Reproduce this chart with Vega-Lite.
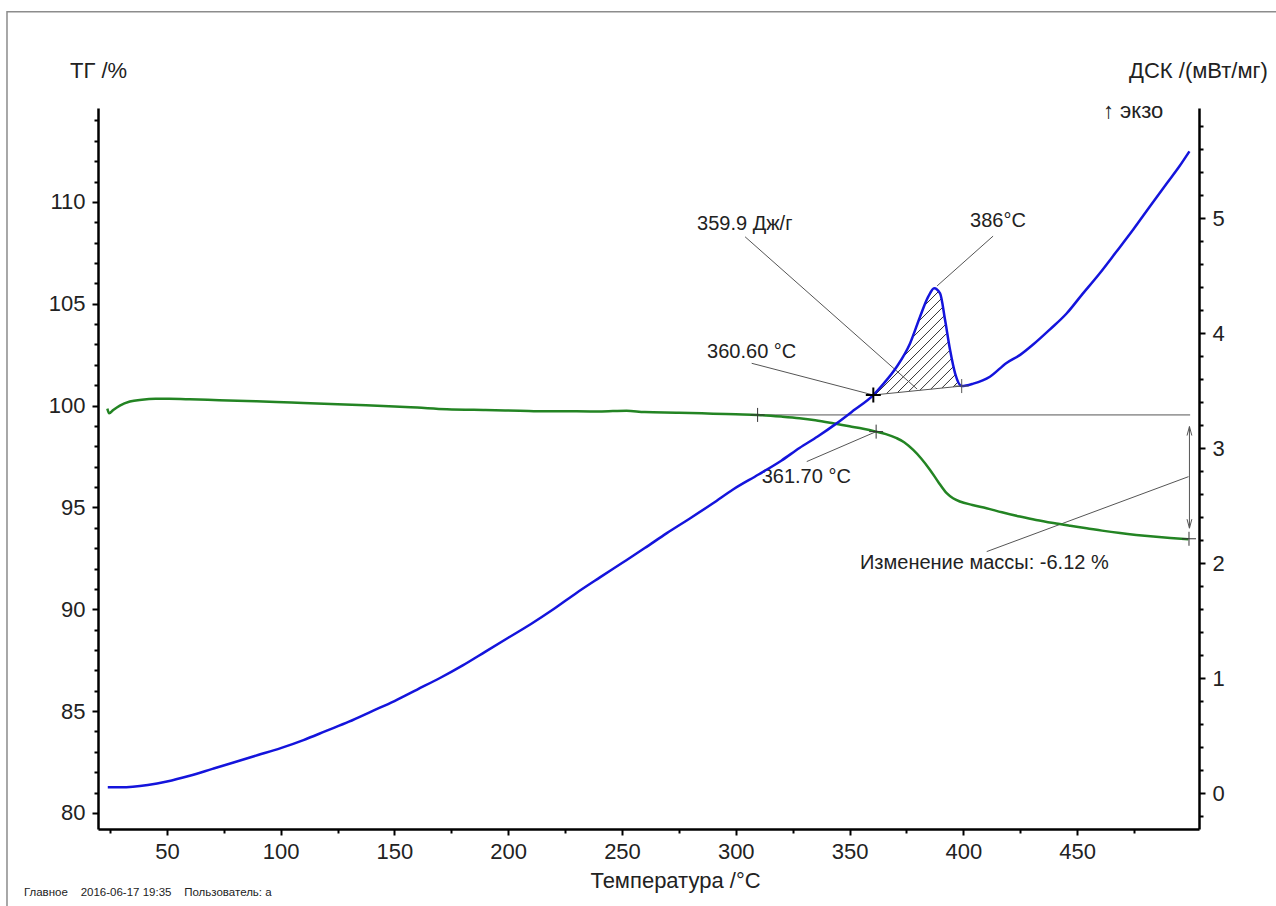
{
  "$schema": "https://vega.github.io/schema/vega-lite/v6.json",
  "width": 1101,
  "height": 721,
  "autosize": {"type": "none"},
  "padding": {"left": 98, "top": 108, "right": 77, "bottom": 77},
  "background": "white",
  "config": {
    "view": {"stroke": null},
    "axis": {
      "domainColor": "#000", "domainWidth": 2.5, "tickColor": "#000", "tickWidth": 2,
      "labelFont": "Liberation Sans", "labelFontSize": 22, "labelColor": "#222",
      "titleFont": "Liberation Sans", "titleFontSize": 22, "titleFontWeight": "normal", "titleColor": "#222",
      "grid": false, "labelFlush": false, "labelOverlap": false
    },
    "text": {"font": "Liberation Sans", "fontSize": 20, "color": "#222"}
  },
  "datasets": {
    "tg": [
      {"x": 23.8, "y": 99.85}, {"x": 24.6, "y": 99.62}, {"x": 26.4, "y": 99.78}, {"x": 29.3, "y": 100.0},
      {"x": 33.7, "y": 100.2}, {"x": 39, "y": 100.29}, {"x": 45, "y": 100.33}, {"x": 51, "y": 100.33},
      {"x": 60, "y": 100.31}, {"x": 73, "y": 100.26}, {"x": 85, "y": 100.22}, {"x": 98, "y": 100.18},
      {"x": 110, "y": 100.12}, {"x": 125, "y": 100.06}, {"x": 137.5, "y": 100.02}, {"x": 150, "y": 99.96},
      {"x": 160, "y": 99.9}, {"x": 173, "y": 99.82}, {"x": 190, "y": 99.78}, {"x": 205, "y": 99.75},
      {"x": 216, "y": 99.72}, {"x": 230, "y": 99.72}, {"x": 240, "y": 99.71}, {"x": 252, "y": 99.75},
      {"x": 260, "y": 99.68}, {"x": 275, "y": 99.65}, {"x": 290, "y": 99.6}, {"x": 300, "y": 99.57},
      {"x": 309.6, "y": 99.54}, {"x": 320, "y": 99.46}, {"x": 328, "y": 99.38}, {"x": 335, "y": 99.28},
      {"x": 342.8, "y": 99.13}, {"x": 350, "y": 98.98}, {"x": 356, "y": 98.86}, {"x": 361.7, "y": 98.72},
      {"x": 366, "y": 98.6}, {"x": 370.7, "y": 98.4}, {"x": 374, "y": 98.2}, {"x": 378, "y": 97.82},
      {"x": 381.5, "y": 97.4}, {"x": 385.4, "y": 96.84}, {"x": 389, "y": 96.25}, {"x": 392.7, "y": 95.7},
      {"x": 395.5, "y": 95.45}, {"x": 398.5, "y": 95.29}, {"x": 404, "y": 95.12}, {"x": 410.2, "y": 94.96},
      {"x": 417, "y": 94.76}, {"x": 424.9, "y": 94.55}, {"x": 432, "y": 94.38}, {"x": 439.6, "y": 94.23},
      {"x": 447, "y": 94.1}, {"x": 454.2, "y": 93.98}, {"x": 461, "y": 93.86}, {"x": 468.9, "y": 93.74},
      {"x": 476, "y": 93.65}, {"x": 483.5, "y": 93.57}, {"x": 491, "y": 93.5}, {"x": 498.9, "y": 93.44}
    ],
    "dsc": [
      {"x": 24, "y": 0.05}, {"x": 30, "y": 0.05}, {"x": 35, "y": 0.055}, {"x": 41.6, "y": 0.07},
      {"x": 50, "y": 0.1}, {"x": 60, "y": 0.15}, {"x": 70, "y": 0.21}, {"x": 80, "y": 0.27},
      {"x": 90, "y": 0.33}, {"x": 100, "y": 0.39}, {"x": 110, "y": 0.46}, {"x": 120, "y": 0.54},
      {"x": 130, "y": 0.62}, {"x": 140, "y": 0.71}, {"x": 150, "y": 0.8}, {"x": 160, "y": 0.9},
      {"x": 170, "y": 1.0}, {"x": 180, "y": 1.11}, {"x": 190, "y": 1.23}, {"x": 200, "y": 1.35},
      {"x": 210, "y": 1.47}, {"x": 220, "y": 1.6}, {"x": 230, "y": 1.74}, {"x": 240.3, "y": 1.875},
      {"x": 250, "y": 2.0}, {"x": 260, "y": 2.13}, {"x": 269.7, "y": 2.26}, {"x": 280, "y": 2.39},
      {"x": 290, "y": 2.52}, {"x": 298.8, "y": 2.64}, {"x": 310, "y": 2.77}, {"x": 320, "y": 2.89},
      {"x": 328, "y": 3.0}, {"x": 336, "y": 3.1}, {"x": 344, "y": 3.21}, {"x": 352, "y": 3.33},
      {"x": 360.46, "y": 3.461}, {"x": 365, "y": 3.56}, {"x": 370.75, "y": 3.707}, {"x": 376.6, "y": 3.91},
      {"x": 381, "y": 4.142}, {"x": 384.6, "y": 4.316}, {"x": 387.2, "y": 4.39}, {"x": 389.8, "y": 4.345},
      {"x": 392, "y": 4.113}, {"x": 394.2, "y": 3.852}, {"x": 396.4, "y": 3.65}, {"x": 399.3, "y": 3.539},
      {"x": 404.4, "y": 3.56}, {"x": 411.7, "y": 3.62}, {"x": 419, "y": 3.74}, {"x": 425, "y": 3.81},
      {"x": 430.7, "y": 3.9}, {"x": 438, "y": 4.03}, {"x": 445.4, "y": 4.17}, {"x": 452, "y": 4.33},
      {"x": 460, "y": 4.52}, {"x": 467, "y": 4.7}, {"x": 474.7, "y": 4.9}, {"x": 482, "y": 5.1},
      {"x": 489.4, "y": 5.3}, {"x": 495, "y": 5.45}, {"x": 499.4, "y": 5.58}
    ],
    "frame": [{"x": -20.3, "x2": 543.6, "y": 119.33, "y2": 74.75}],
    "tgRules": [
      {"x": 309.6, "y": 99.54, "x2": 499.7, "y2": 99.54},
      {"x": 331.2, "y": 97.25, "x2": 361.7, "y2": 98.72},
      {"x": 499.4, "y": 98.97, "x2": 499.4, "y2": 93.98},
      {"x": 410.3, "y": 92.83, "x2": 499.0, "y2": 96.51}
    ],
    "tgCross": [{"x": 309.6, "y": 99.54}, {"x": 361.7, "y": 98.72}, {"x": 499.2, "y": 93.46}],
    "tgArrowUp": [{"x": 499.4, "y": 98.97}],
    "tgArrowDown": [{"x": 499.4, "y": 93.98}],
    "tgText": [
      {"x": 311.4, "y": 96.5, "text": "361.70 °C"},
      {"x": 354.6, "y": 92.28, "text": "Изменение массы: -6.12 %"}
    ],
    "footer": [{"x": -12.86, "y": 76.08, "text": "Главное\u00a0\u00a0\u00a0\u00a02016-06-17 19:35\u00a0\u00a0\u00a0\u00a0Пользователь: а"}],
    "hatch": [
      {"x": 383.1, "y": 4.242, "x2": 389.05, "y2": 4.36},
      {"x": 380.1, "y": 4.096, "x2": 390.25, "y2": 4.297},
      {"x": 377.5, "y": 3.957, "x2": 390.9, "y2": 4.223},
      {"x": 372.7, "y": 3.776, "x2": 391.6, "y2": 4.15},
      {"x": 361.3, "y": 3.463, "x2": 392.3, "y2": 4.076},
      {"x": 366.2, "y": 3.472, "x2": 392.9, "y2": 4.001},
      {"x": 371.1, "y": 3.483, "x2": 393.6, "y2": 3.927},
      {"x": 376.0, "y": 3.492, "x2": 394.2, "y2": 3.852},
      {"x": 380.9, "y": 3.502, "x2": 395.0, "y2": 3.781},
      {"x": 385.7, "y": 3.512, "x2": 395.7, "y2": 3.709},
      {"x": 390.6, "y": 3.522, "x2": 396.6, "y2": 3.64},
      {"x": 395.5, "y": 3.531, "x2": 398.1, "y2": 3.583}
    ],
    "dscRules": [
      {"x": 360.46, "y": 3.461, "x2": 399.3, "y2": 3.539},
      {"x": 304.1, "y": 4.837, "x2": 379.7, "y2": 3.513},
      {"x": 307.0, "y": 3.737, "x2": 360.46, "y2": 3.461},
      {"x": 388.5, "y": 4.41, "x2": 413.1, "y2": 4.843}
    ],
    "dscCrossBold": [{"x": 360.46, "y": 3.461}],
    "dscCross": [{"x": 399.3, "y": 3.539}],
    "dscText": [
      {"x": 283.0, "y": 4.948, "text": "359.9 Дж/г", "size": 20},
      {"x": 403.0, "y": 4.974, "text": "386°C", "size": 20},
      {"x": 287.4, "y": 3.835, "text": "360.60 °C", "size": 20},
      {"x": 461.4, "y": 5.93, "text": "↑ экзо", "size": 22}
    ]
  },
  "layer": [
    {
      "layer": [
        {
          "data": {"name": "frame"},
          "mark": {"type": "rect", "fill": "transparent", "stroke": "#8c8c8c", "strokeWidth": 1.5},
          "encoding": {
            "x": {"field": "x", "type": "quantitative", "scale": {"domain": [19.7, 503.6], "nice": false, "zero": false},
              "title": "Температура /°C",
              "axis": {
                "values": [25, 50, 75, 100, 125, 150, 175, 200, 225, 250, 275, 300, 325, 350, 375, 400, 425, 450, 475],
                "tickCount": 200,
                "labelExpr": "datum.value % 50 === 0 ? datum.label : ''",
                "labelOverlap": false,
                "tickSize": {"condition": {"test": "datum.value % 50 === 0", "value": 6}, "value": 4},
                "labelPadding": 6,
                "titleX": 577, "titleY": 51, "titleAlign": "center", "titleBaseline": "middle"
              }},
            "x2": {"field": "x2"},
            "y": {"field": "y", "type": "quantitative", "scale": {"domain": [79.21, 114.61], "nice": false, "zero": false},
              "title": "ТГ /%",
              "axis": {
                "orient": "left",
                "values": [80, 81, 82, 83, 84, 85, 86, 87, 88, 89, 90, 91, 92, 93, 94, 95, 96, 97, 98, 99, 100, 101, 102, 103, 104, 105, 106, 107, 108, 109, 110, 111, 112, 113, 114],
                "tickCount": 200,
                "labelExpr": "datum.value % 5 === 0 ? format(datum.value, 'd') : ''",
                "labelOverlap": false,
                "tickSize": {"condition": {"test": "datum.value % 5 === 0", "value": 6}, "value": 4},
                "labelPadding": 7,
                "titleAngle": 0, "titleX": 0, "titleY": -38, "titleAlign": "center", "titleBaseline": "middle"
              }},
            "y2": {"field": "y2"}
          }
        },
        {
          "data": {"name": "tgRules"},
          "mark": {"type": "rule", "color": "#555", "strokeWidth": 1},
          "encoding": {
            "x": {"field": "x", "type": "quantitative", "title": "Температура /°C"},
            "x2": {"field": "x2"},
            "y": {"field": "y", "type": "quantitative", "title": "ТГ /%"},
            "y2": {"field": "y2"}
          }
        },
        {
          "data": {"name": "tg"},
          "mark": {"type": "line", "color": "#238423", "strokeWidth": 2.5, "interpolate": "monotone"},
          "encoding": {
            "x": {"field": "x", "type": "quantitative", "title": "Температура /°C"},
            "y": {"field": "y", "type": "quantitative", "title": "ТГ /%"}
          }
        },
        {
          "data": {"name": "tgCross"},
          "mark": {"type": "point", "shape": "M-1,0L1,0M0,-1L0,1", "size": 196, "filled": false, "stroke": "#333", "strokeWidth": 1, "opacity": 1},
          "encoding": {
            "x": {"field": "x", "type": "quantitative", "title": "Температура /°C"},
            "y": {"field": "y", "type": "quantitative", "title": "ТГ /%"}
          }
        },
        {
          "data": {"name": "tgArrowUp"},
          "mark": {"type": "point", "shape": "M-1.6,6L0,0L1.6,6", "size": 9, "filled": false, "stroke": "#555", "strokeWidth": 1, "opacity": 1},
          "encoding": {
            "x": {"field": "x", "type": "quantitative", "title": "Температура /°C"},
            "y": {"field": "y", "type": "quantitative", "title": "ТГ /%"}
          }
        },
        {
          "data": {"name": "tgArrowDown"},
          "mark": {"type": "point", "shape": "M-1.6,-6L0,0L1.6,-6", "size": 9, "filled": false, "stroke": "#555", "strokeWidth": 1, "opacity": 1},
          "encoding": {
            "x": {"field": "x", "type": "quantitative", "title": "Температура /°C"},
            "y": {"field": "y", "type": "quantitative", "title": "ТГ /%"}
          }
        },
        {
          "data": {"name": "tgText"},
          "mark": {"type": "text", "align": "left", "baseline": "middle", "fontSize": 20},
          "encoding": {
            "x": {"field": "x", "type": "quantitative", "title": "Температура /°C"},
            "y": {"field": "y", "type": "quantitative", "title": "ТГ /%"},
            "text": {"field": "text"}
          }
        },
        {
          "data": {"name": "footer"},
          "mark": {"type": "text", "align": "left", "baseline": "middle", "fontSize": 11.5},
          "encoding": {
            "x": {"field": "x", "type": "quantitative", "title": "Температура /°C"},
            "y": {"field": "y", "type": "quantitative", "title": "ТГ /%"},
            "text": {"field": "text"}
          }
        }
      ]
    },
    {
      "layer": [
        {
          "data": {"name": "hatch"},
          "mark": {"type": "rule", "color": "#333", "strokeWidth": 1},
          "encoding": {
            "x": {"field": "x", "type": "quantitative", "title": "Температура /°C"},
            "x2": {"field": "x2"},
            "y": {"field": "y", "type": "quantitative", "scale": {"domain": [-0.313, 5.957], "nice": false, "zero": false},
              "title": "ДСК /(мВт/мг)",
              "axis": {
                "orient": "right",
                "values": [-0.2, 0, 0.2, 0.4, 0.6, 0.8, 1, 1.2, 1.4, 1.6, 1.8, 2, 2.2, 2.4, 2.6, 2.8, 3, 3.2, 3.4, 3.6, 3.8, 4, 4.2, 4.4, 4.6, 4.8, 5, 5.2, 5.4, 5.6, 5.8],
                "tickCount": 200,
                "labelExpr": "abs(datum.value - round(datum.value)) < 0.01 ? format(round(datum.value), 'd') : ''",
                "labelOverlap": false,
                "tickSize": {"condition": {"test": "abs(datum.value - round(datum.value)) < 0.01", "value": 6}, "value": 4},
                "labelPadding": 7,
                "titleAngle": 0, "titleX": -1, "titleY": -38, "titleAlign": "center", "titleBaseline": "middle"
              }},
            "y2": {"field": "y2"}
          }
        },
        {
          "data": {"name": "dscRules"},
          "mark": {"type": "rule", "color": "#555", "strokeWidth": 1},
          "encoding": {
            "x": {"field": "x", "type": "quantitative", "title": "Температура /°C"},
            "x2": {"field": "x2"},
            "y": {"field": "y", "type": "quantitative", "title": "ДСК /(мВт/мг)"},
            "y2": {"field": "y2"}
          }
        },
        {
          "data": {"name": "dsc"},
          "mark": {"type": "line", "color": "#1414dc", "strokeWidth": 2.5, "interpolate": "monotone"},
          "encoding": {
            "x": {"field": "x", "type": "quantitative", "title": "Температура /°C"},
            "y": {"field": "y", "type": "quantitative", "title": "ДСК /(мВт/мг)"}
          }
        },
        {
          "data": {"name": "dscCrossBold"},
          "mark": {"type": "point", "shape": "M-1,0L1,0M0,-1L0,1", "size": 225, "filled": false, "stroke": "#000", "strokeWidth": 2, "opacity": 1},
          "encoding": {
            "x": {"field": "x", "type": "quantitative", "title": "Температура /°C"},
            "y": {"field": "y", "type": "quantitative", "title": "ДСК /(мВт/мг)"}
          }
        },
        {
          "data": {"name": "dscCross"},
          "mark": {"type": "point", "shape": "M-1,0L1,0M0,-1L0,1", "size": 196, "filled": false, "stroke": "#555", "strokeWidth": 1, "opacity": 1},
          "encoding": {
            "x": {"field": "x", "type": "quantitative", "title": "Температура /°C"},
            "y": {"field": "y", "type": "quantitative", "title": "ДСК /(мВт/мг)"}
          }
        },
        {
          "data": {"name": "dscText"},
          "mark": {"type": "text", "align": "left", "baseline": "middle"},
          "encoding": {
            "x": {"field": "x", "type": "quantitative", "title": "Температура /°C"},
            "y": {"field": "y", "type": "quantitative", "title": "ДСК /(мВт/мг)"},
            "text": {"field": "text"},
            "size": {"field": "size", "type": "quantitative", "scale": null, "legend": null}
          }
        }
      ]
    }
  ],
  "resolve": {"scale": {"y": "independent"}, "axis": {"y": "independent"}}
}
